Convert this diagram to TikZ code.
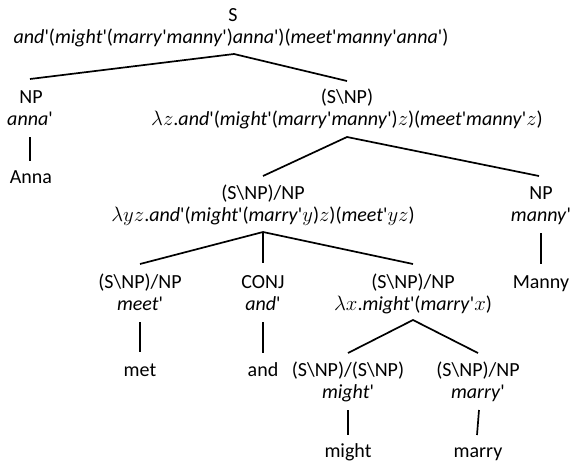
\documentclass[tikz,border=0pt]{standalone}
\usepackage{fontspec}
\setmainfont{Carlito}[Ligatures=TeXOff]
\newcommand{\ti}[1]{\textit{#1}}
\newcommand{\bsl}{\textbackslash}
\begin{document}
\begin{tikzpicture}[x=1pt,y=-1pt,
  every node/.style={inner sep=0pt, anchor=base, font=\fontsize{20}{24}\selectfont},
  edge/.style={line width=1.7pt, line cap=butt}]
\useasboundingbox (0,0) rectangle (570,464);
% root
\node (s0) at (233,21) {S};
\node (f0) at (231,43) {\ti{and}'(\ti{might}'(\ti{marry}'\ti{manny}')\ti{anna}')(\ti{meet}'\ti{manny}'\ti{anna}')};
% level 1
\node (np1) at (31,103) {NP};
\node (sa) at (30,125) {\ti{anna}'};
\node (wa) at (31,183) {Anna};
\node (vp) at (347,103) {(S\bsl NP)};
\node (svp) at (347,125) {$\lambda z$.\ti{and}'(\ti{might}'(\ti{marry}'\ti{manny}')$z$)(\ti{meet}'\ti{manny}'$z$)};
% level 2
\node (tv) at (263,199) {(S\bsl NP)/NP};
\node (stv) at (263,221) {$\lambda yz$.\ti{and}'(\ti{might}'(\ti{marry}'$y$)$z$)(\ti{meet}'$yz$)};
\node (np2) at (541,199) {NP};
\node (sm) at (541,221) {\ti{manny}'};
\node (wm) at (541,288) {Manny};
% level 3
\node (met) at (140,288) {(S\bsl NP)/NP};
\node (smet) at (140,310) {\ti{meet}'};
\node (wmet) at (140,376) {met};
\node (conj) at (263,288) {CONJ};
\node (sconj) at (263,310) {\ti{and}'};
\node (wand) at (263,376) {and};
\node (vx) at (413,288) {(S\bsl NP)/NP};
\node (svx) at (413,310) {$\lambda x$.\ti{might}'(\ti{marry}'$x$)};
% level 4
\node (mod) at (348,376) {(S\bsl NP)/(S\bsl NP)};
\node (smod) at (348,398) {\ti{might}'};
\node (wmod) at (348,457) {might};
\node (mar) at (478,376) {(S\bsl NP)/NP};
\node (smar) at (478,398) {\ti{marry}'};
\node (wmar) at (478,457) {marry};
% connector points
\coordinate (a0) at (234,54);
\coordinate (e0l) at (30,79);
\coordinate (e0r) at (347,81);
\coordinate (a1) at (347,137);
\coordinate (e1l) at (263,176);
\coordinate (e1r) at (539,176);
\coordinate (a2) at (263,232);
\coordinate (e2l) at (140,264);
\coordinate (e2m) at (263,263);
\coordinate (e2r) at (413,264);
\coordinate (a3) at (413,320);
\coordinate (e3l) at (348,353);
\coordinate (e3r) at (478,353);
\draw[edge] (e0l) -- (a0) -- (e0r);
\draw[edge] (e1l) -- (a1) -- (e1r);
\draw[edge] (e2l) -- (a2) -- (e2r);
\draw[edge] (a2) -- (e2m);
\draw[edge] (e3l) -- (a3) -- (e3r);
% leaf lines
\coordinate (la1) at (30,137); \coordinate (la2) at (30,161);
\coordinate (lm1) at (541,233); \coordinate (lm2) at (541,264);
\coordinate (lt1) at (140,322); \coordinate (lt2) at (140,352);
\coordinate (lc1) at (263,322); \coordinate (lc2) at (263,353);
\coordinate (lg1) at (348,410); \coordinate (lg2) at (348,435);
\coordinate (lr1) at (479,410); \coordinate (lr2) at (477,435);
\draw[edge] (la1) -- (la2);
\draw[edge] (lm1) -- (lm2);
\draw[edge] (lt1) -- (lt2);
\draw[edge] (lc1) -- (lc2);
\draw[edge] (lg1) -- (lg2);
\draw[edge] (lr1) -- (lr2);
\end{tikzpicture}
\end{document}
